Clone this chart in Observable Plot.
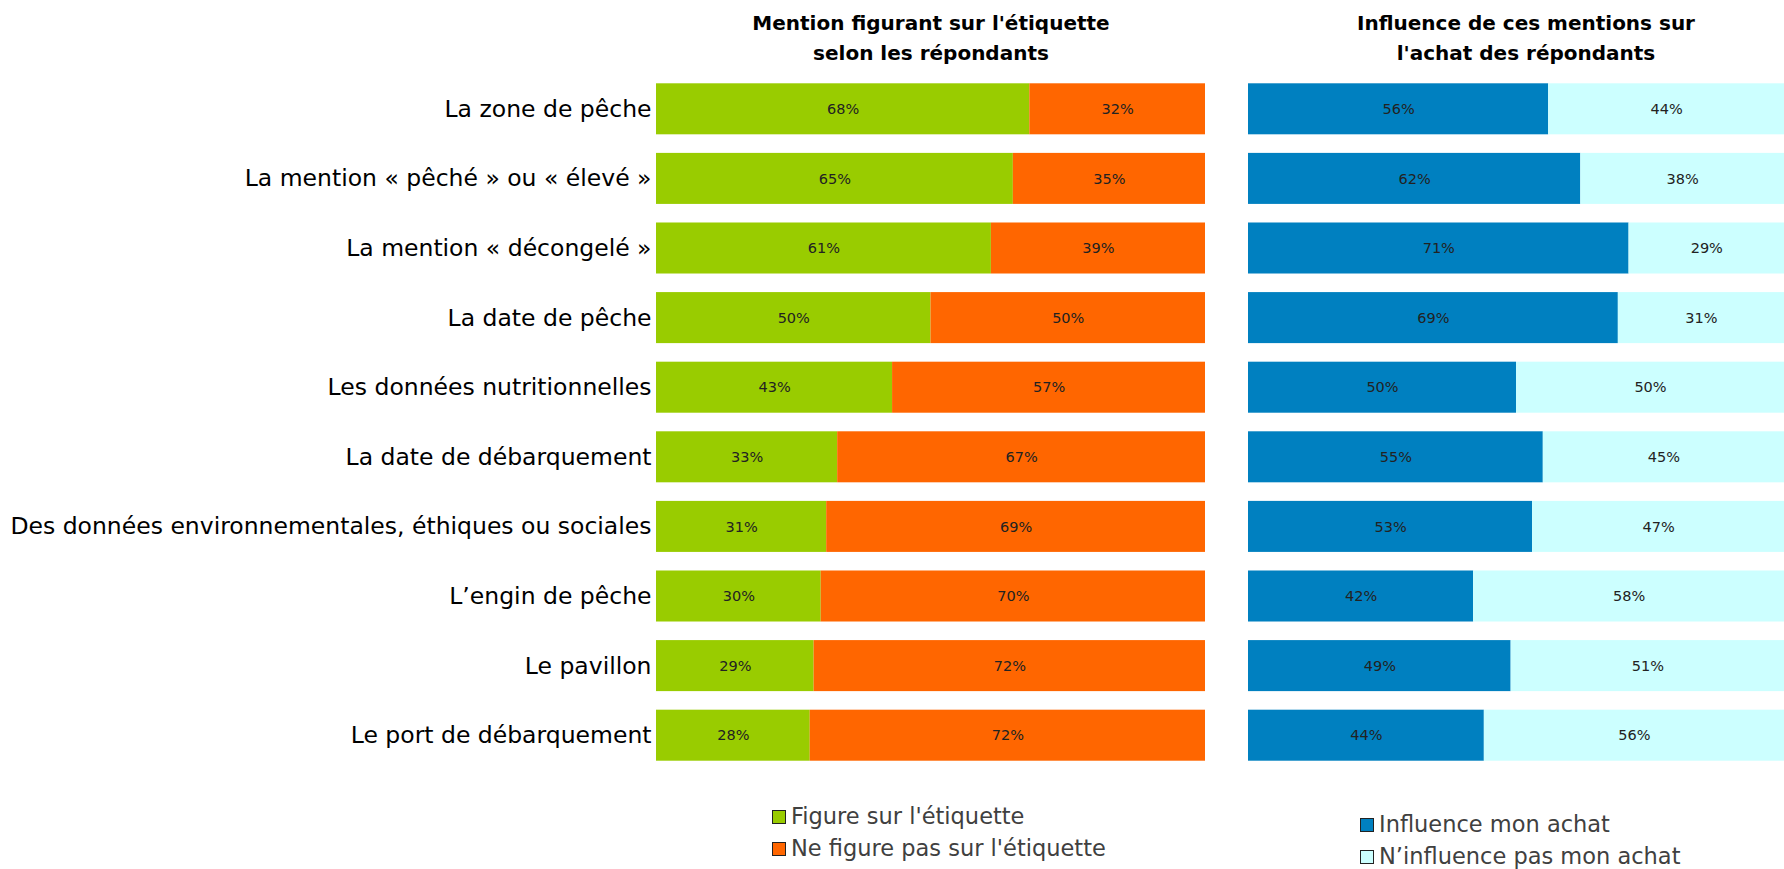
<!DOCTYPE html>
<html><head><meta charset="utf-8">
<script src="https://cdn.jsdelivr.net/npm/d3@7"></script>
<script src="https://cdn.jsdelivr.net/npm/@observablehq/plot@0.6"></script>
<style>
body{margin:0;background:#fff;}
#wrap{position:relative;width:1784px;height:869px;overflow:hidden;font-family:"DejaVu Sans",sans-serif;}
.title{position:absolute;top:8px;text-align:center;font-weight:bold;font-size:20px;line-height:30px;color:#000;width:600px;}
.chart{position:absolute;top:0;}
.legend{position:absolute;font-size:22.5px;color:#404040;line-height:32px;}
.legend .sw{display:inline-block;width:12px;height:12px;border:1.5px solid #222;margin-right:5px;vertical-align:0px;}
</style></head>
<body><div id="wrap"></div>
<script>
const categories = [
  "La zone de pêche",
  "La mention « pêché » ou « élevé »",
  "La mention « décongelé »",
  "La date de pêche",
  "Les données nutritionnelles",
  "La date de débarquement",
  "Des données environnementales, éthiques ou sociales",
  "L’engin de pêche",
  "Le pavillon",
  "Le port de débarquement"
];
const titleA = ["Mention figurant sur l'étiquette", "selon les répondants"];
const titleB = ["Influence de ces mentions sur", "l'achat des répondants"];
const seriesA = ["Figure sur l'étiquette", "Ne figure pas sur l'étiquette"];
const presentValues = [68, 65, 61, 50, 43, 33, 31, 30, 29, 28];
const absentValues  = [32, 35, 39, 50, 57, 67, 69, 70, 72, 72];
const seriesB = ["Influence mon achat", "N’influence pas mon achat"];
const influenceValues   = [56, 62, 71, 69, 50, 55, 53, 42, 49, 44];
const noInfluenceValues = [44, 38, 29, 31, 50, 45, 47, 58, 51, 56];
const colorsA = ["#99cc00", "#ff6600"];
const colorsB = ["#0080c0", "#ccffff"];

function rows(names, a, b) {
  const out = [];
  categories.forEach((c, i) => {
    out.push({cat: c, series: names[0], value: a[i]});
    out.push({cat: c, series: names[1], value: b[i]});
  });
  return out;
}

function chart(data, names, colors, opts) {
  return Plot.plot({
    width: opts.width,
    height: 780,
    marginTop: 74,
    marginBottom: 10,
    marginLeft: opts.marginLeft,
    marginRight: opts.marginRight,
    style: {fontFamily: "DejaVu Sans, sans-serif", fontSize: "23.5px", color: "#000", background: "transparent"},
    x: {domain: [0, 1], axis: null},
    y: {domain: categories, paddingInner: 0.267, paddingOuter: 0.1335, round: false, axis: opts.yAxis ? "left" : null, tickSize: 0, tickPadding: 5, label: null},
    color: {domain: names, range: colors},
    marks: [
      Plot.barX(data, Plot.stackX({x: "value", y: "cat", fill: "series", z: "series", offset: "normalize", order: names})),
      Plot.text(data, Plot.stackX({x: "value", y: "cat", z: "series", offset: "normalize", order: names,
        text: d => d.value + "%", fill: "#222", fontSize: 14.5}))
    ]
  });
}

const wrap = document.getElementById("wrap");

const left = chart(rows(seriesA, presentValues, absentValues), seriesA, colorsA,
  {width: 1210, marginLeft: 656, marginRight: 5, yAxis: true});
left.classList.add("chart"); left.style.left = "0px";
wrap.appendChild(left);

const right = chart(rows(seriesB, influenceValues, noInfluenceValues), seriesB, colorsB,
  {width: 541, marginLeft: 5, marginRight: 0, yAxis: false});
right.classList.add("chart"); right.style.left = "1243px";
wrap.appendChild(right);

function addTitle(lines, cx) {
  const d = document.createElement("div");
  d.className = "title";
  d.style.left = (cx - 300) + "px";
  d.innerHTML = lines.join("<br>");
  wrap.appendChild(d);
}
addTitle(titleA, 931);
addTitle(titleB, 1526);

function addLegend(names, colors, x, y) {
  const d = document.createElement("div");
  d.className = "legend";
  d.style.left = x + "px";
  d.style.top = y + "px";
  d.innerHTML = names.map((n, i) => `<div><span class="sw" style="background:${colors[i]}"></span>${n}</div>`).join("");
  wrap.appendChild(d);
}
addLegend(seriesA, colorsA, 772, 800);
addLegend(seriesB, colorsB, 1360, 808);
</script>
</body></html>
